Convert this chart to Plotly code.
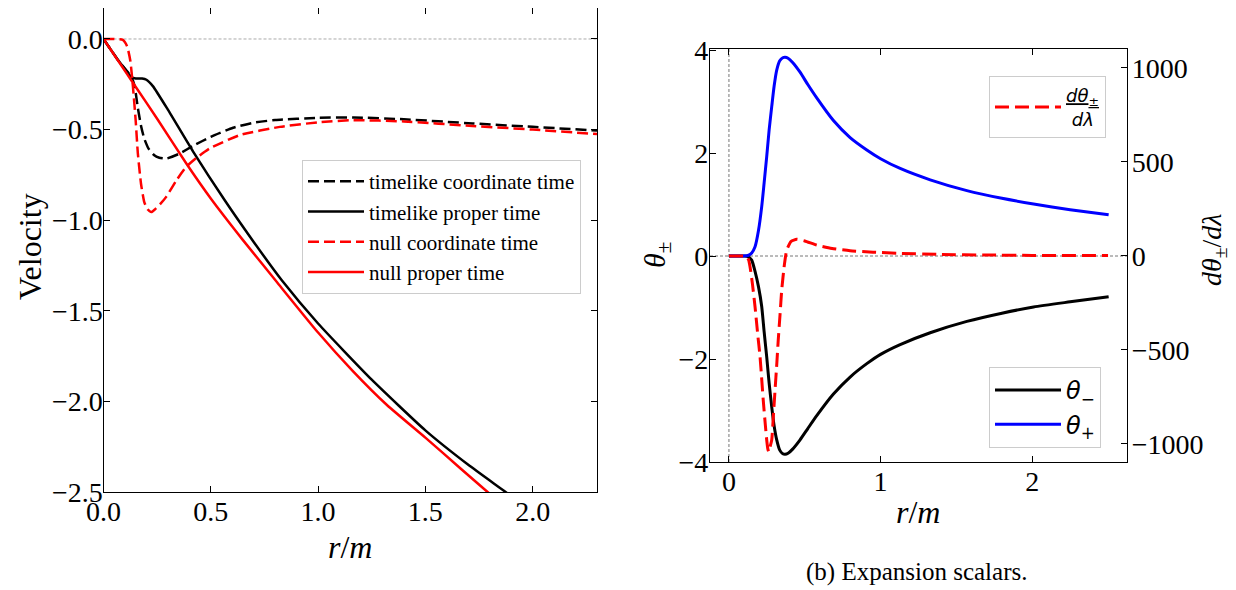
import plotly.graph_objects as go

# ---------------- Left panel: velocities ----------------
r_tc = [0, 0.07, 0.13, 0.145, 0.16, 0.175, 0.19, 0.21, 0.235, 0.26, 0.293, 0.35, 0.417, 0.5,
        0.604, 0.7, 0.8, 1.0, 1.165, 1.4, 1.72, 2.0, 2.3]
v_tc = [0, -0.12, -0.21, -0.26, -0.38, -0.48, -0.55, -0.605, -0.64, -0.655, -0.66, -0.635,
        -0.59, -0.54, -0.49, -0.462, -0.447, -0.435, -0.433, -0.443, -0.466, -0.485, -0.505]

r_tp = [0, 0.07, 0.13, 0.15, 0.18, 0.2, 0.23, 0.3, 0.417, 0.565, 0.7, 0.83, 1.0, 1.25, 1.5,
        1.7, 1.874, 1.93]
v_tp = [0, -0.12, -0.21, -0.218, -0.218, -0.225, -0.26, -0.39, -0.62, -0.89, -1.12, -1.33,
        -1.57, -1.88, -2.16, -2.35, -2.5, -2.55]

r_nc = [0, 0.05, 0.09, 0.11, 0.125, 0.137, 0.15, 0.16, 0.175, 0.19, 0.205, 0.223, 0.24, 0.265,
        0.293, 0.34, 0.386, 0.44, 0.495, 0.636, 0.822, 1.0, 1.165, 1.4, 1.72, 2.0, 2.3]
v_nc = [0, 0, -0.005, -0.04, -0.12, -0.26, -0.45, -0.63, -0.80, -0.90, -0.94, -0.955, -0.94,
        -0.91, -0.87, -0.78, -0.705, -0.65, -0.604, -0.53, -0.485, -0.46, -0.448, -0.455,
        -0.48, -0.50, -0.525]

r_np = [0, 0.07, 0.145, 0.25, 0.386, 0.5, 0.65, 0.807, 1.0, 1.16, 1.321, 1.5, 1.664, 1.79, 1.84]
v_np = [0, -0.123, -0.255, -0.44, -0.687, -0.88, -1.11, -1.34, -1.62, -1.83, -2.02, -2.2,
        -2.37, -2.5, -2.55]

left_names = ["timelike coordinate time", "timelike proper time",
              "null coordinate time", "null proper time"]
left_xticks = [0.0, 0.5, 1.0, 1.5, 2.0]
left_yticks = [0.0, -0.5, -1.0, -1.5, -2.0, -2.5]

# ---------------- Right panel: expansion scalars ----------------
r_th = [0, 0.05, 0.1, 0.125, 0.15, 0.172, 0.195, 0.216, 0.232, 0.249, 0.265, 0.282, 0.298,
        0.315, 0.335, 0.355, 0.37, 0.39, 0.42, 0.469, 0.52, 0.579, 0.689, 0.799, 0.909,
        1.0, 1.129, 1.327, 1.569, 1.8, 2.009, 2.25, 2.504]
theta_plus = [0, 0, 0, 0.01, 0.06, 0.18, 0.5, 0.96, 1.42, 1.93, 2.45, 2.9, 3.3, 3.61, 3.79,
              3.85, 3.86, 3.84, 3.76, 3.57, 3.33, 3.07, 2.63, 2.30, 2.06, 1.89, 1.70, 1.48,
              1.27, 1.12, 1.01, 0.90, 0.80]
theta_minus = [0, 0, 0, -0.01, -0.08, -0.3, -0.6, -0.98, -1.47, -1.96, -2.47, -2.93, -3.3,
               -3.57, -3.77, -3.84, -3.85, -3.83, -3.75, -3.57, -3.35, -3.10, -2.68, -2.35,
               -2.09, -1.91, -1.72, -1.49, -1.27, -1.11, -0.99, -0.89, -0.79]

r_dth = [0, 0.05, 0.1, 0.12, 0.13, 0.139, 0.155, 0.172, 0.19, 0.205, 0.226, 0.24, 0.249,
         0.256, 0.262, 0.268, 0.282, 0.293, 0.304, 0.315, 0.325, 0.337, 0.348, 0.365, 0.381,
         0.41, 0.447, 0.5, 0.579, 0.68, 0.799, 0.95, 1.129, 1.4, 1.7, 2.0, 2.5]
dtheta = [0, 0, 0, -5, -22, -57, -150, -270, -420, -536, -766, -900, -979, -1025, -1041,
          -1025, -979, -850, -713, -580, -447, -310, -181, -50, 32, 78, 89, 80, 58, 40, 28,
          20, 14, 8, 5, 3, 2]

right_xticks = [0, 1, 2]
right_yticks = [-4, -2, 0, 2, 4]
right_y2ticks = [-1000, -500, 0, 500, 1000]

SERIF = "Liberation Serif"
W, H = 1236, 590
OFF = 8  # page body margin offset


def px_x(p):
    return (p - OFF) / W


def px_y(p):
    return 1 - (p - OFF) / H


fig = go.Figure()

lw = 2.5
dash_l = "11px,5px"
left_styles = [("black", dash_l), ("black", "solid"), ("red", dash_l), ("red", "solid")]
left_data = [(r_tc, v_tc), (r_tp, v_tp), (r_nc, v_nc), (r_np, v_np)]
for (rx, vy), name, (col, dsh) in zip(left_data, left_names, left_styles):
    fig.add_trace(go.Scatter(x=rx, y=vy, mode="lines", name=name,
                             line=dict(color=col, width=lw, dash=dsh, shape="spline", smoothing=0.5),
                             xaxis="x", yaxis="y", legend="legend"))

fig.add_trace(go.Scatter(x=r_th, y=theta_minus, mode="lines", name="<i>θ</i><sub>−</sub>",
                         line=dict(color="black", width=3, shape="spline", smoothing=0.6),
                         xaxis="x2", yaxis="y2", legend="legend3"))
fig.add_trace(go.Scatter(x=r_th, y=theta_plus, mode="lines", name="<i>θ</i><sub>+</sub>",
                         line=dict(color="blue", width=3, shape="spline", smoothing=0.6),
                         xaxis="x2", yaxis="y2", legend="legend3"))
fig.add_trace(go.Scatter(x=r_dth, y=dtheta, mode="lines",
                         name="<span style='text-decoration:underline'><i>dθ</i><sub>±</sub></span><br>\u00a0<i>dλ</i>",
                         line=dict(color="red", width=3, dash="14px,6px", shape="spline", smoothing=0.5),
                         xaxis="x2", yaxis="y3", legend="legend2"))

axis_common = dict(ticks="inside", ticklen=6, tickwidth=1, tickcolor="black",
                   showline=True, linecolor="black", linewidth=1.2,
                   showgrid=False, zeroline=False,
                   tickfont=dict(family=SERIF, size=28, color="black"))

# page-pixel geometry of the two plot areas (top of left panel limited by the page offset)
lx0, lx1, ly0, ly1 = 103.5, 597, 8, 492
rx0, rx1, ry0, ry1 = 710, 1127, 49, 462

fig.update_layout(
    width=W, height=H, margin=dict(l=0, r=0, t=0, b=0, pad=0, autoexpand=False),
    paper_bgcolor="white", plot_bgcolor="white",
    font=dict(family=SERIF, size=20, color="black"),
    xaxis=dict(domain=[px_x(lx0), px_x(lx1)], anchor="y", range=[0, 2.3],
               tickvals=left_xticks, tickformat=".1f", mirror="ticks",
               ticklabelstandoff=-6, **axis_common),
    yaxis=dict(domain=[px_y(ly1), px_y(ly0)], anchor="x", range=[-2.5, 0.171],
               tickvals=left_yticks, tickformat=".1f", mirror="ticks",
               ticklabelstandoff=-6, **axis_common),
    xaxis2=dict(domain=[px_x(rx0), px_x(rx1)], anchor="y2", range=[-0.125, 2.625],
                tickvals=right_xticks, mirror="ticks", ticklabelstandoff=-6, **axis_common),
    yaxis2=dict(domain=[px_y(ry1), px_y(ry0)], anchor="x2", range=[-4.0, 4.02],
                tickvals=right_yticks, ticklabelstandoff=-5, **axis_common),
    yaxis3=dict(overlaying="y2", anchor="x2", side="right", range=[-1096, 1101],
                tickvals=right_y2ticks, ticklabelstandoff=-2, **axis_common),
    legend=dict(x=px_x(302), y=px_y(160), xanchor="left", yanchor="top", itemwidth=56,
                bgcolor="rgba(255,255,255,0.8)", bordercolor="#cccccc", borderwidth=1,
                font=dict(family=SERIF, size=21, color="black"), tracegroupgap=0),
    legend2=dict(x=px_x(989), y=px_y(76), xanchor="left", yanchor="top", itemwidth=66,
                 bgcolor="rgba(255,255,255,0.8)", bordercolor="#cccccc", borderwidth=1,
                 font=dict(family="DejaVu Sans", size=18, color="black")),
    legend3=dict(x=px_x(989), y=px_y(367), xanchor="left", yanchor="top", itemwidth=66,
                 bgcolor="rgba(255,255,255,0.8)", bordercolor="#cccccc", borderwidth=1,
                 font=dict(family="DejaVu Sans", size=24, color="black")),
    showlegend=True,
)

# reference lines
fig.add_shape(type="line", xref="x domain", yref="y", x0=0, x1=1, y0=0, y1=0,
              line=dict(color="#aaaaaa", width=1, dash="3px,2px"), layer="below")
fig.add_shape(type="line", xref="x2 domain", yref="y2", x0=0, x1=1, y0=0, y1=0,
              line=dict(color="#777777", width=1, dash="3px,2px"), layer="below")
fig.add_shape(type="line", xref="x2", yref="y2 domain", x0=0, x1=0, y0=0, y1=1,
              line=dict(color="#777777", width=1, dash="3px,2px"), layer="below")

# axis titles and caption
ann = [
    dict(text="<i>r</i>/<i>m</i>", x=px_x(350), y=px_y(547), size=32, family=SERIF, angle=0),
    dict(text="Velocity", x=px_x(30), y=px_y(247), size=32, family=SERIF, angle=-90),
    dict(text="<i>r</i>/<i>m</i>", x=px_x(918), y=px_y(512), size=32, family=SERIF, angle=0),
    dict(text="<i>θ</i><sub>±</sub>", x=px_x(657), y=px_y(255), size=30, family=SERIF, angle=-90),
    dict(text="<i>dθ</i><sub>±</sub>/<i>dλ</i>", x=px_x(1214), y=px_y(250), size=28, family=SERIF, angle=-90),
    dict(text="(b) Expansion scalars.", x=px_x(916), y=px_y(572), size=25, family=SERIF, angle=0),
]
for a in ann:
    fig.add_annotation(text=a["text"], x=a["x"], y=a["y"], xref="paper", yref="paper",
                       showarrow=False, xanchor="center", yanchor="middle", textangle=a["angle"],
                       font=dict(family=a["family"], size=a["size"], color="black"))

fig.write_html("out.html")
